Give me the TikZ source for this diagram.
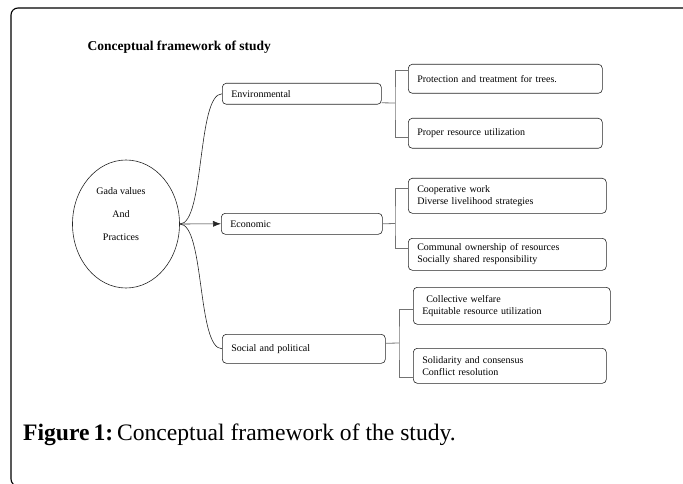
\documentclass[tikz,border=0pt]{standalone}
\usepackage{fontspec}
\setmainfont{Liberation Serif}
\usepackage{tikz}
\usetikzlibrary{positioning,shapes.geometric,arrows.meta}

\begin{document}
\begin{tikzpicture}[x=1pt,y=-1pt,
  box/.style={draw=black!85, line width=0.6pt, rounded corners=4pt, anchor=north west,
    inner xsep=9pt, inner ysep=0pt, align=left, font=\fontsize{10}{12}\selectfont},
  curve/.style={black!85, line width=0.6pt},
  link/.style={black!55, line width=0.8pt}]
\useasboundingbox (0,0) rectangle (683,484);
% frame
\draw[line width=1.1pt, rounded corners=7pt] (683,8) -- (11,8) -- (11,486) -- (30,486);
\node[anchor=west, font=\bfseries\fontsize{13.5}{16}\selectfont] (title) at (84,47) {Conceptual framework of study};
% centre
\node[draw=black!85, line width=0.6pt, ellipse, minimum width=107, minimum height=128, inner sep=0pt] (gada) at (126,224) {};
\node[align=center, font=\fontsize{10}{23}\selectfont] (gadatxt) at (121,214) {Gada values\\And\\Practices};
% middle boxes
\node[box, text width=141, minimum height=21] (env) at (222,83) {Environmental};
\node[box, text width=143, minimum height=21] (econ) at (221,213) {Economic};
\node[box, text width=145, minimum height=29] (soc) at (222,334) {Social and political};
% right boxes
\node[box, text width=176, minimum height=29] (prot) at (408,64) {Protection and treatment for trees.};
\node[box, text width=176, minimum height=30] (proper) at (408,118) {Proper resource utilization};
\node[box, text width=180, minimum height=35] (coop) at (408,178) {Cooperative work\\Diverse livelihood strategies};
\node[box, text width=180, minimum height=32] (comm) at (408,238) {Communal ownership of resources\\Socially shared responsibility};
\node[box, text width=179, minimum height=37] (coll) at (413,287) {\hspace{4pt}Collective welfare\\Equitable resource utilization};
\node[box, text width=175, minimum height=35] (soli) at (413,348) {Solidarity and consensus\\Conflict resolution};
% branches
\draw[curve] (gada.east) .. controls ([xshift=25pt]gada.east) and ([xshift=-25pt]env.west) .. (env.west);
\draw[curve] (gada.east) .. controls ([xshift=25pt]gada.east) and ([xshift=-25pt]soc.west) .. (soc.west);
\draw[curve, -{Latex[length=8pt,width=6pt]}] (gada.east) -- (econ.west);
% forks
\coordinate (envfork) at (395,103);
\coordinate (econfork) at (395,223.5);
\coordinate (socfork) at (399,343);
\draw[link] ([yshift=-9pt]env.east) -- (envfork);
\draw[link] ([yshift=8.5pt]prot.west) -| (envfork) |- ([yshift=-4pt]proper.west);
\draw[link] (econ.east) -- (econfork);
\draw[link] ([yshift=7.5pt]coop.west) -| (econfork) |- ([yshift=6pt]comm.west);
\draw[link] ([yshift=5.5pt]soc.east) -- (socfork);
\draw[link] ([yshift=-3.5pt]coll.west) -| (socfork) |- ([yshift=-11.5pt]soli.west);
% caption
\node[anchor=west, inner xsep=0pt, font=\fontsize{23.6}{28}\selectfont] (caption) at (23,435) {\textbf{Figure\,1:}\,Conceptual framework of the study.};
\end{tikzpicture}
\end{document}
